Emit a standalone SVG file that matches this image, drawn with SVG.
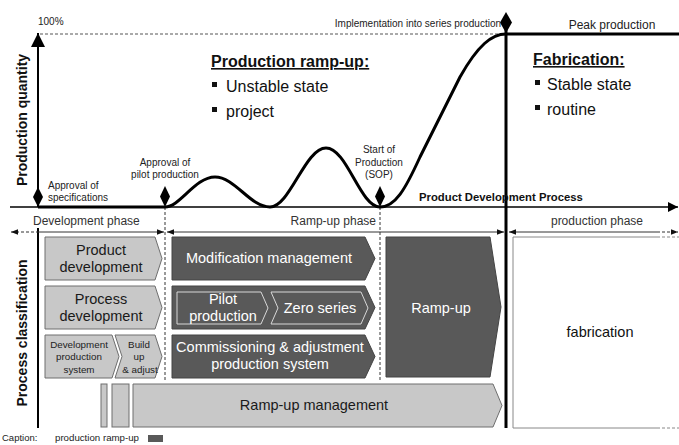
<svg xmlns="http://www.w3.org/2000/svg" width="679" height="445" viewBox="0 0 679 445">
  <defs>
    <marker id="arrowEnd" viewBox="0 0 10 10" refX="10" refY="5" markerWidth="7" markerHeight="7" orient="auto">
      <path d="M0,0 L10,5 L0,10 z" fill="#000"/>
    </marker>
    <marker id="arrowStart" viewBox="0 0 10 10" refX="0" refY="5" markerWidth="7" markerHeight="7" orient="auto">
      <path d="M10,0 L0,5 L10,10 z" fill="#000"/>
    </marker>
    <marker id="phaseEnd" viewBox="0 0 10 10" refX="10" refY="5" markerWidth="8" markerHeight="7" orient="auto" markerUnits="userSpaceOnUse">
      <path d="M0,1 L10,5 L0,9 z" fill="#111"/>
    </marker>
    <marker id="phaseStart" viewBox="0 0 10 10" refX="0" refY="5" markerWidth="8" markerHeight="7" orient="auto" markerUnits="userSpaceOnUse">
      <path d="M10,1 L0,5 L10,9 z" fill="#111"/>
    </marker>
  </defs>
  <style>
    text { font-family: "Liberation Sans", Arial, sans-serif; }
    .sm { font-size: 10px; fill: #222; }
    .ph { font-size: 12px; fill: #333; }
    .big { font-size: 16px; fill: #111; }
    .head { font-size: 16px; font-weight: bold; fill: #111; text-decoration: underline; }
    .axis { font-size: 14px; font-weight: bold; fill: #111; }
    .light { fill: #c8c8c8; stroke: #6e6e6e; stroke-width: 1; }
    .dark { fill: #595959; stroke: #444; stroke-width: 1; }
    .inner { fill: none; stroke: #d8d8d8; stroke-width: 1; }
    .lt { font-size: 14.5px; fill: #1a1a1a; text-anchor: middle; }
    .dt { font-size: 14.5px; fill: #fff; text-anchor: middle; }
    .tiny { font-size: 9.8px; fill: #222; text-anchor: middle; }
    .diamond { fill: #000; }
  </style>

  <!-- chart axes, guides and curve -->
  <g id="connectors">
    <!-- y axis -->
    <line x1="38" y1="207" x2="38" y2="33" stroke="#000" stroke-width="2" marker-end="url(#arrowEnd)"/>
    <!-- x axis (product development process) -->
    <line x1="10" y1="207" x2="678" y2="207" stroke="#000" stroke-width="1.5" marker-end="url(#arrowEnd)"/>
    <!-- 100% guide -->
    <line x1="40" y1="34" x2="506" y2="34" stroke="#555" stroke-width="1" stroke-dasharray="3,2"/>
    <!-- production quantity curve -->
    <path d="M38,207 L165,207 C180,207 195,177 215,177 C235,177 250,207 270,207 C290,207 305,148 326,148 C347,148 360,207 380,207 C395,207 405,190 420,157 L460,77 C478,45 492,34 506,34 L679,34" fill="none" stroke="#000" stroke-width="3"/>
    <!-- vertical divider to production phase -->
    <line x1="506" y1="22" x2="506" y2="428" stroke="#000" stroke-width="3"/>
    <!-- left axis of process classification -->
    <line x1="38" y1="228" x2="38" y2="428" stroke="#000" stroke-width="2"/>
    <!-- milestone guides -->
    <line x1="165" y1="207" x2="165" y2="382" stroke="#000" stroke-width="0.8" stroke-dasharray="3,2"/>
    <line x1="380" y1="207" x2="380" y2="382" stroke="#000" stroke-width="0.8" stroke-dasharray="3,2"/>
    <!-- phase arrows -->
    <line x1="11" y1="232" x2="38" y2="232" stroke="#333" stroke-width="1" stroke-dasharray="3,2" marker-start="url(#phaseStart)"/>
    <line x1="38" y1="232" x2="164" y2="232" stroke="#333" stroke-width="1" marker-end="url(#phaseEnd)"/>
    <line x1="167" y1="232" x2="504" y2="232" stroke="#333" stroke-width="1" marker-start="url(#phaseStart)" marker-end="url(#phaseEnd)"/>
    <line x1="509" y1="232" x2="657" y2="232" stroke="#333" stroke-width="1" marker-start="url(#phaseStart)"/>
    <line x1="657" y1="232" x2="678" y2="232" stroke="#333" stroke-width="1" stroke-dasharray="3,2" marker-end="url(#phaseEnd)"/>
  </g>

  <!-- milestones -->
  <g id="ms-specs">
    <path class="diamond" d="M38,187 L43,197 L38,207 L33,197 z"/>
    <text class="sm" x="48" y="189">Approval  of</text>
    <text class="sm" x="48" y="201">specifications</text>
  </g>
  <g id="ms-pilot">
    <path class="diamond" d="M165,186 L170,196.5 L165,207 L160,196.5 z"/>
    <text class="sm" x="165" y="166" text-anchor="middle">Approval  of</text>
    <text class="sm" x="165" y="178" text-anchor="middle">pilot production</text>
  </g>
  <g id="ms-sop">
    <path class="diamond" d="M380,186 L385,196.5 L380,207 L375,196.5 z"/>
    <text class="sm" x="379" y="153" text-anchor="middle">Start of</text>
    <text class="sm" x="379" y="166" text-anchor="middle">Production</text>
    <text class="sm" x="379" y="178" text-anchor="middle">(SOP)</text>
  </g>
  <g id="ms-series">
    <path class="diamond" d="M506,12 L512,22.5 L506,33 L500,22.5 z"/>
    <text class="sm" x="501" y="27" text-anchor="end">Implementation  into series production</text>
  </g>

  <!-- chart labels -->
  <g id="labels">
    <text class="sm" x="38" y="25">100%</text>
    <text class="axis" transform="translate(27,120) rotate(-90)" text-anchor="middle">Production quantity</text>
    <text class="axis" transform="translate(27,333) rotate(-90)" text-anchor="middle">Process classification</text>
    <text x="612" y="29" font-size="12" fill="#222" text-anchor="middle">Peak production</text>
    <text x="419" y="201" font-size="11.3" font-weight="bold" fill="#111">Product Development Process</text>
  </g>

  <g id="rampup-note">
    <text class="head" x="211" y="67">Production ramp-up:</text>
    <rect x="212" y="82" width="5" height="5" fill="#111"/>
    <text class="big" x="226" y="92">Unstable  state</text>
    <rect x="212" y="107" width="5" height="5" fill="#111"/>
    <text class="big" x="226" y="117">project</text>
  </g>
  <g id="fabrication-note">
    <text class="head" x="533" y="65">Fabrication:</text>
    <rect x="535" y="80" width="5" height="5" fill="#111"/>
    <text class="big" x="547" y="90">Stable state</text>
    <rect x="535" y="105" width="5" height="5" fill="#111"/>
    <text class="big" x="547" y="115">routine</text>
  </g>

  <!-- phase labels -->
  <g id="phases">
    <text class="ph" x="33" y="225">Development phase</text>
    <text class="ph" x="376" y="225" text-anchor="end">Ramp-up  phase</text>
    <text class="ph" x="597" y="225" text-anchor="middle">production phase</text>
  </g>

  <!-- development phase processes -->
  <g id="product-development">
    <path class="light" d="M45,237 L155,237 L162,258.5 L155,280 L45,280 z"/>
    <text class="lt" x="101" y="255">Product</text>
    <text class="lt" x="101" y="272">development</text>
  </g>
  <g id="process-development">
    <path class="light" d="M45,286 L155,286 L162,307.5 L155,329 L45,329 z"/>
    <text class="lt" x="101" y="304">Process</text>
    <text class="lt" x="101" y="321">development</text>
  </g>
  <g id="development-production-system">
    <path class="light" d="M45,335 L112,335 L119,356.5 L112,378 L45,378 z"/>
    <text class="tiny" x="79" y="348">Development</text>
    <text class="tiny" x="79" y="360">production</text>
    <text class="tiny" x="79" y="373">system</text>
  </g>
  <g id="build-up-adjust">
    <path class="light" d="M115,335 L155,335 L162,356.5 L155,378 L115,378 L122,356.5 z"/>
    <text class="tiny" x="139" y="348">Build</text>
    <text class="tiny" x="139" y="360">up</text>
    <text class="tiny" x="140" y="373">&amp; adjust</text>
  </g>

  <!-- ramp-up phase processes -->
  <g id="modification-management">
    <path class="dark" d="M172,237 L365,237 L375,258.5 L365,280 L172,280 z"/>
    <text class="dt" x="269" y="263">Modification management</text>
  </g>
  <g id="pilot-zero">
    <path class="dark" d="M172,286 L365,286 L375,307.5 L365,329 L172,329 z"/>
    <path class="inner" d="M177,292 L261,292 L268,308 L261,324 L177,324 z"/>
    <path class="inner" d="M271,292 L361,292 L368,308 L361,324 L271,324 L278,308 z"/>
    <text class="dt" x="223" y="304">Pilot</text>
    <text class="dt" x="223" y="321">production</text>
    <text class="dt" x="320" y="313">Zero series</text>
  </g>
  <g id="commissioning">
    <path class="dark" d="M172,335 L365,335 L375,356.5 L365,378 L172,378 z"/>
    <text class="dt" x="270" y="352">Commissioning &amp; adjustment</text>
    <text class="dt" x="270" y="369">production system</text>
  </g>
  <g id="ramp-up">
    <path class="dark" d="M386,237 L490,237 L501,307 L490,377 L386,377 z"/>
    <text class="dt" x="441" y="313">Ramp-up</text>
  </g>

  <!-- ramp-up management -->
  <g id="ramp-up-management">
    <rect class="light" x="101" y="384" width="6" height="43"/>
    <rect class="light" x="112" y="384" width="17" height="43"/>
    <path class="light" d="M133,384 L493,384 L502,405.5 L493,427 L133,427 z"/>
    <text class="lt" x="314" y="410">Ramp-up management</text>
  </g>

  <!-- production phase -->
  <g id="fabrication">
    <path d="M657,237 L513,237 L513,428 L657,428" fill="#fff" stroke="#888" stroke-width="1"/>
    <path d="M657,237 L679,237 M657,428 L679,428" fill="none" stroke="#888" stroke-width="1" stroke-dasharray="3,2"/>
    <text x="600" y="337" font-size="14.5" fill="#111" text-anchor="middle">fabrication</text>
  </g>

  <!-- caption -->
  <g id="caption">
    <text x="2" y="441" font-size="9.5" fill="#222">Caption:</text>
    <text x="55" y="441" font-size="9.7" fill="#222">production ramp-up</text>
    <rect x="148" y="435" width="15" height="7" fill="#595959"/>
  </g>
</svg>
